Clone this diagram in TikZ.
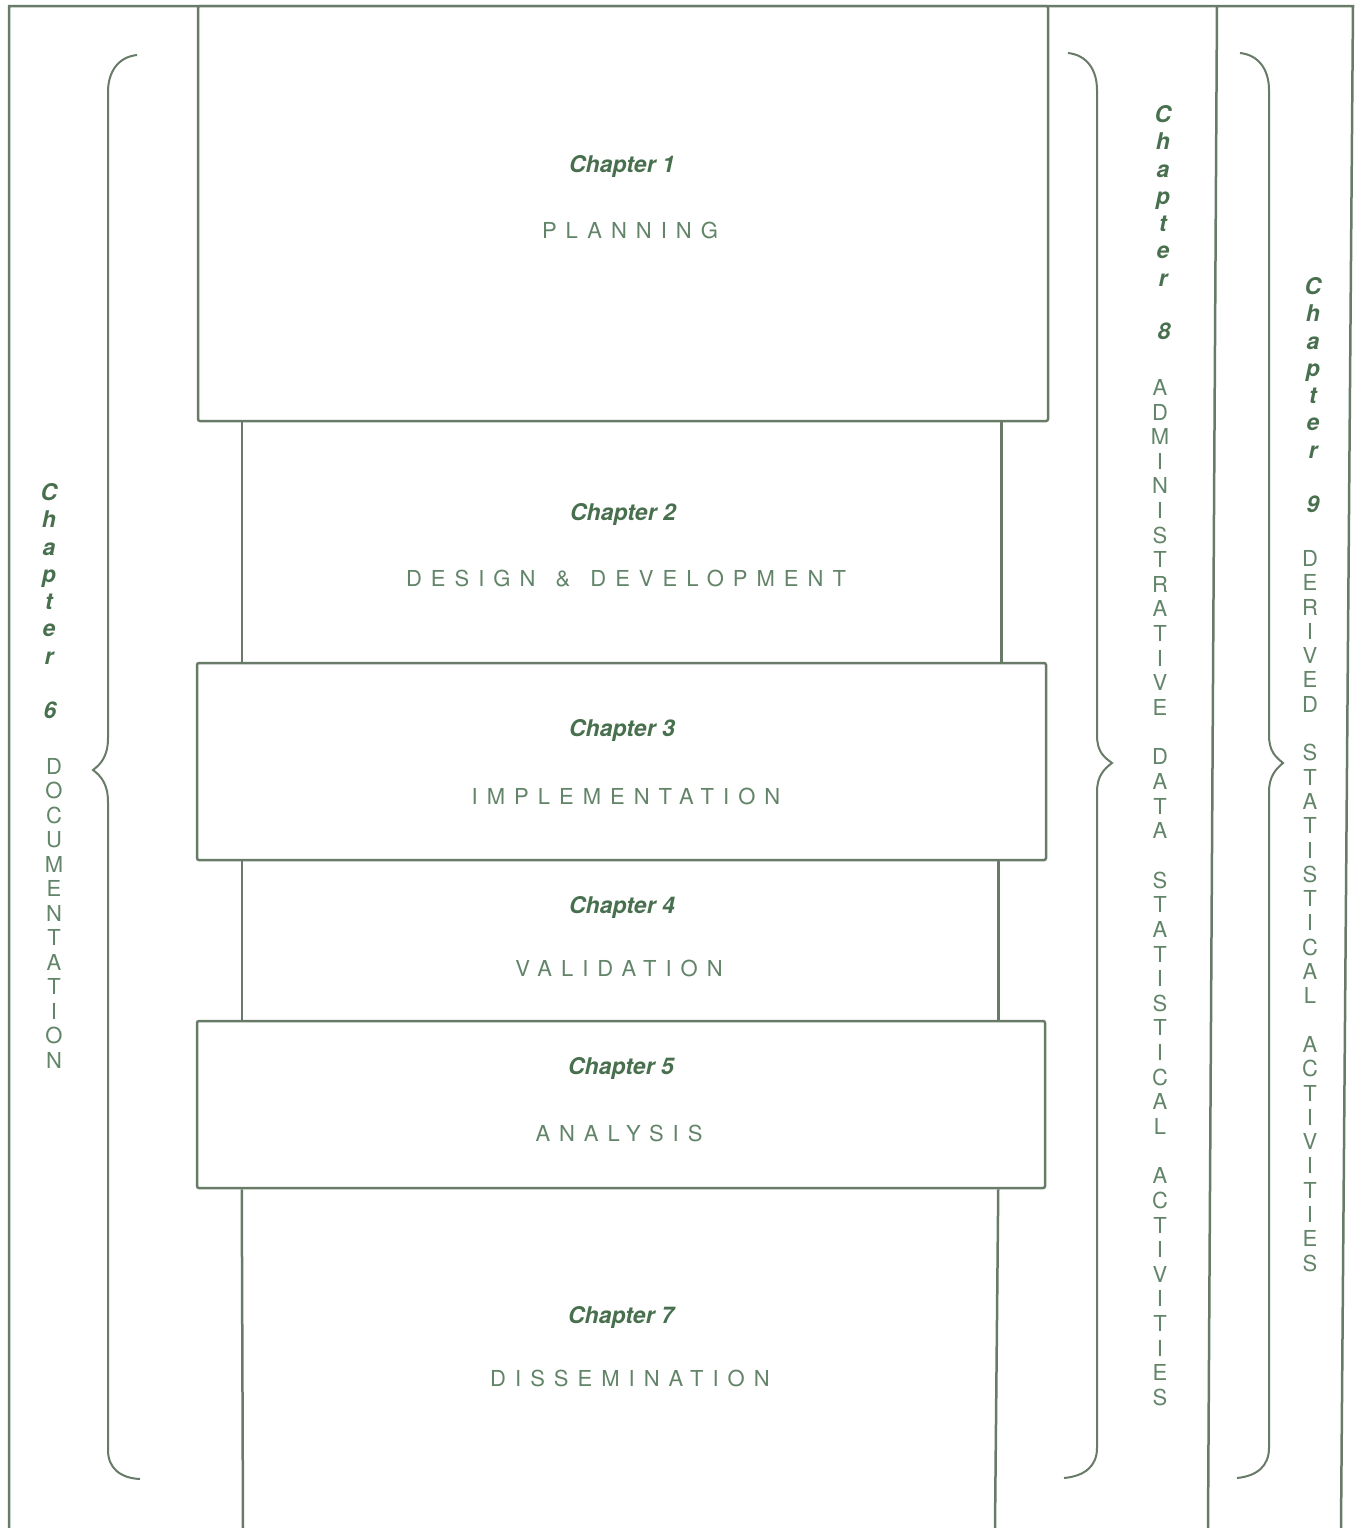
\documentclass[tikz,border=0pt]{standalone}
\usepackage{fontspec}
\setsansfont{TeX Gyre Heros}
\newfontfamily\trackfont[LetterSpace=41]{TeX Gyre Heros}
\usetikzlibrary{positioning}
\definecolor{framegray}{RGB}{104,122,104}
\definecolor{chapgreen}{RGB}{72,112,78}
\definecolor{capgreen}{RGB}{98,132,104}
\tikzset{
  % Outline of the stage boxes and the columns
  frameline/.style  = { draw=framegray, line width=1.25pt },
  bracket/.style    = { draw=framegray, line width=1pt },
  stagebox/.style   = { frameline, fill=white, inner sep=0, rounded corners=1pt },
  % Labels
  chaplabel/.style  = { font=\fontsize{11.5}{13.65}\selectfont\sffamily\bfseries\itshape, text=chapgreen },
  stagelabel/.style = { font=\fontsize{11}{13}\selectfont\trackfont, text=capgreen },
  vchap/.style      = { chaplabel, align=center, inner sep=0, anchor=north },
  vcaps/.style      = { font=\fontsize{11}{12.25}\selectfont\sffamily, text=capgreen,
                         align=center, inner sep=0, anchor=north }
}
\begin{document}
\begin{tikzpicture}[x=0.5pt, y=-0.5pt]
  \useasboundingbox (0,0) rectangle (1361,1528);

  % outer frame and the right-hand column
  \draw[frameline] (9,1528) -- (9,6) -- (1353,6) -- (1341,1528);
  \draw[frameline] (1217,6) -- (1208,1528);

  % wide stage boxes
  \node[stagebox, minimum width=425pt, minimum height=207.5pt] (planbox) at (623,213.5) {};
  \node[stagebox, minimum width=424.5pt, minimum height=98.5pt] (implbox) at (621.5,761.5) {};
  \node[stagebox, minimum width=424pt, minimum height=83.5pt] (analbox) at (621,1104.5) {};

  % narrow stages between the boxes
  \coordinate (dissleft) at (243,1528);
  \coordinate (dissright) at (995,1528);
  \draw[frameline] ([xshift=22.5pt]planbox.south west) -- ([xshift=23pt]implbox.north west);
  \draw[frameline] ([xshift=-24pt]planbox.south east) -- ([xshift=-23pt]implbox.north east);
  \draw[frameline] ([xshift=23pt]implbox.south west) -- ([xshift=23pt]analbox.north west);
  \draw[frameline] ([xshift=-24.5pt]implbox.south east) -- ([xshift=-24pt]analbox.north east);
  \draw[frameline] ([xshift=23pt]analbox.south west) -- (dissleft);
  \draw[frameline] ([xshift=-24pt]analbox.south east) -- (dissright);

  % stage labels
  \node[chaplabel] (ch1) at (622,166) {Chapter 1};
  \node[stagelabel] (plan) at (630,230) {PLANNING};
  \node[chaplabel] (ch2) at (623,514) {Chapter 2};
  \node[stagelabel] (design) at (626,579) {DESIGN\hspace{2.5pt} \&\hspace{2.5pt} DEVELOPMENT};
  \node[chaplabel] (ch3) at (622,730) {Chapter 3};
  \node[stagelabel] (impl) at (626,796) {IMPLEMENTATION};
  \node[chaplabel] (ch4) at (622,907) {Chapter 4};
  \node[stagelabel] (valid) at (619,968) {VALIDATION};
  \node[chaplabel] (ch5) at (621,1068) {Chapter 5};
  \node[stagelabel] (anal) at (619,1133) {ANALYSIS};
  \node[chaplabel] (ch7) at (621,1317) {Chapter 7};
  \node[stagelabel] (dissem) at (630,1378) {DISSEMINATION};

  % braces
  \draw[bracket] (137,55) .. controls (118,57) and (108,72) .. (108,92) -- (108,738)
    .. controls (108,756) and (101,764) .. (93,770) .. controls (101,776) and (108,784) .. (108,802)
    -- (108,1450) .. controls (108,1468) and (120,1478) .. (140,1479);
  \draw[bracket] (1068,53) .. controls (1087,55) and (1097,70) .. (1097,90) -- (1097,735)
    .. controls (1097,752) and (1104,757) .. (1112,763) .. controls (1104,769) and (1097,776) .. (1097,792)
    -- (1097,1448) .. controls (1097,1466) and (1085,1476) .. (1064,1478);
  \draw[bracket] (1240,53) .. controls (1259,55) and (1269,70) .. (1269,90) -- (1269,735)
    .. controls (1269,752) and (1276,757) .. (1283,763) .. controls (1276,769) and (1269,776) .. (1269,792)
    -- (1269,1448) .. controls (1269,1466) and (1257,1476) .. (1237,1478);

  % left column: chapter 6
  \node[vchap] (ch6word) at (49,483) {C\\h\\a\\p\\t\\e\\r};
  \node[chaplabel] (ch6num) at (50,710) {6};
  \node[vcaps] (docu) at (54,758) {D\\O\\C\\U\\M\\E\\N\\T\\A\\T\\I\\O\\N};

  % middle column: chapter 8
  \node[vchap] (ch8word) at (1163,105) {C\\h\\a\\p\\t\\e\\r};
  \node[chaplabel] (ch8num) at (1164,331) {8};
  \node[vcaps, font=\fontsize{11}{12.3}\selectfont\sffamily] (admin) at (1160,379) {A\\D\\M\\I\\N\\I\\S\\T\\R\\A\\T\\I\\V\\E\\[12.5pt]D\\A\\T\\A\\[12.5pt]S\\T\\A\\T\\I\\S\\T\\I\\C\\A\\L\\[12.5pt]A\\C\\T\\I\\V\\I\\T\\I\\E\\S};

  % right column: chapter 9
  \node[vchap] (ch9word) at (1313,277) {C\\h\\a\\p\\t\\e\\r};
  \node[chaplabel] (ch9num) at (1313,504) {9};
  \node[vcaps, font=\fontsize{11}{12.15}\selectfont\sffamily] (derived) at (1310,550) {D\\E\\R\\I\\V\\E\\D\\[12.15pt]S\\T\\A\\T\\I\\S\\T\\I\\C\\A\\L\\[12.15pt]A\\C\\T\\I\\V\\I\\T\\I\\E\\S};

\end{tikzpicture}
\end{document}
